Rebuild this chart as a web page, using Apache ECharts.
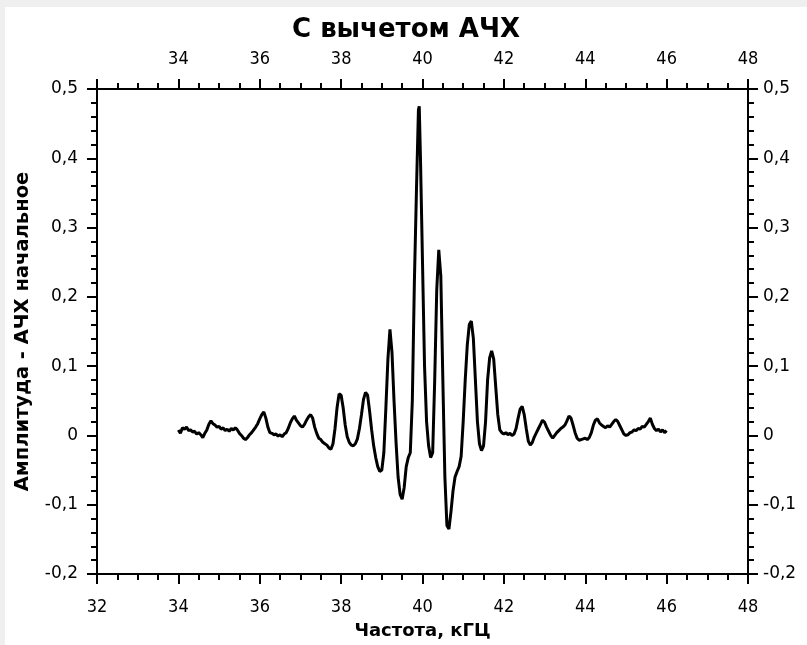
<!DOCTYPE html>
<html lang="ru">
<head>
    <meta charset="UTF-8">
    <script type="text/javascript" src="https://cdn.jsdelivr.net/npm/echarts@6/dist/echarts.min.js"></script>
    <title>С вычетом АЧХ</title>
    <style type="text/css">
        body { margin: 0; background: #efefef; }
        #chart {
            position: absolute;
            left: 5px;
            top: 7px;
            width: 802px;
            height: 638px;
            background: #fff;
        }
    </style>
</head>
<body>
    <div id="chart"></div>
    <script type="text/javascript">
        // частота, кГц
        let freq = [
            34.00, 34.05, 34.10, 34.15, 34.20, 34.25, 34.30, 34.35, 34.40, 34.45,
            34.50, 34.55, 34.60, 34.65, 34.70, 34.75, 34.80, 34.85, 34.90, 34.95,
            35.00, 35.05, 35.10, 35.15, 35.20, 35.25, 35.30, 35.35, 35.40, 35.45,
            35.50, 35.55, 35.60, 35.65, 35.70, 35.75, 35.80, 35.85, 35.90, 35.95,
            36.00, 36.05, 36.10, 36.15, 36.20, 36.25, 36.30, 36.35, 36.40, 36.45,
            36.50, 36.55, 36.60, 36.65, 36.70, 36.75, 36.80, 36.85, 36.90, 36.95,
            37.00, 37.05, 37.10, 37.15, 37.20, 37.25, 37.30, 37.35, 37.40, 37.45,
            37.50, 37.55, 37.60, 37.65, 37.70, 37.75, 37.80, 37.85, 37.90, 37.95,
            38.00, 38.05, 38.10, 38.15, 38.20, 38.25, 38.30, 38.35, 38.40, 38.45,
            38.50, 38.55, 38.60, 38.65, 38.70, 38.75, 38.80, 38.85, 38.90, 38.95,
            39.00, 39.05, 39.10, 39.15, 39.20, 39.25, 39.30, 39.35, 39.40, 39.45,
            39.50, 39.55, 39.60, 39.65, 39.70, 39.75, 39.80, 39.85, 39.90, 39.92,
            39.95, 40.00, 40.05, 40.10, 40.15, 40.20, 40.25, 40.30, 40.35, 40.40,
            40.45, 40.50, 40.55, 40.60, 40.65, 40.70, 40.75, 40.80, 40.85, 40.90,
            40.95, 41.00, 41.05, 41.10, 41.15, 41.20, 41.25, 41.30, 41.35, 41.40,
            41.45, 41.50, 41.55, 41.60, 41.65, 41.70, 41.75, 41.80, 41.85, 41.90,
            41.95, 42.00, 42.05, 42.10, 42.15, 42.20, 42.25, 42.30, 42.35, 42.40,
            42.45, 42.50, 42.55, 42.60, 42.65, 42.70, 42.75, 42.80, 42.85, 42.90,
            42.95, 43.00, 43.05, 43.10, 43.15, 43.20, 43.25, 43.30, 43.35, 43.40,
            43.45, 43.50, 43.55, 43.60, 43.65, 43.70, 43.75, 43.80, 43.85, 43.90,
            43.95, 44.00, 44.05, 44.10, 44.15, 44.20, 44.25, 44.30, 44.35, 44.40,
            44.45, 44.50, 44.55, 44.60, 44.65, 44.70, 44.75, 44.80, 44.85, 44.90,
            44.95, 45.00, 45.05, 45.10, 45.15, 45.20, 45.25, 45.30, 45.35, 45.40,
            45.45, 45.50, 45.55, 45.60, 45.65, 45.70, 45.75, 45.80, 45.85, 45.90,
            45.95, 46.00
        ]
        // амплитуда - АЧХ начальное
        let amp = [
            0.008, 0.003, 0.011, 0.009, 0.012, 0.007, 0.008, 0.005, 0.006, 0.002,
            0.004, 0.001, -0.003, 0.003, 0.008, 0.016, 0.021, 0.017, 0.015, 0.012,
            0.013, 0.009, 0.011, 0.007, 0.009, 0.006, 0.010, 0.008, 0.011, 0.008,
            0.003, 0.000, -0.004, -0.006, -0.003, 0.001, 0.004, 0.008, 0.012, 0.017,
            0.024, 0.030, 0.034, 0.025, 0.012, 0.004, 0.003, 0.001, 0.002, -0.001,
            0.001, -0.002, 0.002, 0.004, 0.010, 0.018, 0.024, 0.028, 0.022, 0.018,
            0.014, 0.012, 0.016, 0.022, 0.027, 0.030, 0.025, 0.012, 0.003, -0.004,
            -0.006, -0.010, -0.012, -0.014, -0.018, -0.020, -0.012, 0.010, 0.040, 0.060,
            0.058, 0.040, 0.015, -0.002, -0.010, -0.014, -0.015, -0.012, -0.005, 0.010,
            0.030, 0.052, 0.062, 0.058, 0.035, 0.008, -0.015, -0.032, -0.045, -0.052,
            -0.050, -0.025, 0.040, 0.110, 0.153, 0.120, 0.050, -0.010, -0.060, -0.085,
            -0.092, -0.075, -0.045, -0.032, -0.025, 0.050, 0.220, 0.350, 0.470, 0.475,
            0.400, 0.250, 0.100, 0.020, -0.015, -0.032, -0.025, 0.080, 0.210, 0.268,
            0.230, 0.080, -0.060, -0.130, -0.135, -0.110, -0.080, -0.060, -0.052, -0.045,
            -0.030, 0.020, 0.080, 0.130, 0.160, 0.165, 0.140, 0.080, 0.020, -0.012,
            -0.022, -0.015, 0.020, 0.080, 0.112, 0.122, 0.110, 0.070, 0.030, 0.008,
            0.004, 0.002, 0.004, 0.001, 0.003, 0.000, 0.002, 0.010, 0.025, 0.038,
            0.042, 0.030, 0.010, -0.008, -0.014, -0.010, -0.002, 0.004, 0.010, 0.016,
            0.022, 0.019, 0.012, 0.006, 0.000, -0.004, 0.000, 0.004, 0.007, 0.010,
            0.012, 0.015, 0.021, 0.028, 0.025, 0.015, 0.004, -0.004, -0.007, -0.006,
            -0.005, -0.004, -0.006, -0.003, 0.004, 0.015, 0.022, 0.024, 0.018, 0.015,
            0.013, 0.011, 0.014, 0.012, 0.016, 0.020, 0.023, 0.020, 0.014, 0.008,
            0.002, 0.000, 0.001, 0.004, 0.005, 0.008, 0.007, 0.010, 0.009, 0.013,
            0.012, 0.016, 0.020, 0.025, 0.016, 0.010, 0.007, 0.009, 0.005, 0.008,
            0.004, 0.007
        ]

        let labelFont = 'DejaVu Sans'
        let narrowFont = '"DejaVu Sans Condensed", sans-serif'
        let boldFont = '"DejaVu Sans", sans-serif'

        function yLabel(v) {
            let r = Math.round(v * 10) / 10
            return String(r).replace('.', ',')
        }

        function xAxisOpt(pos) {
            return {
                type: 'value',
                position: pos,
                min: 32,
                max: 48,
                interval: 2,
                name: pos === 'bottom' ? 'Частота, кГЦ' : '',
                nameLocation: 'middle',
                nameGap: 48,
                nameTextStyle: { fontFamily: boldFont, fontWeight: 'bold', fontSize: 18, color: '#000' },
                axisLine: { onZero: false, lineStyle: { color: '#000', width: 2 } },
                axisTick: { length: 10, lineStyle: { color: '#000', width: 2 } },
                minorTick: { show: true, splitNumber: 4, length: 6, lineStyle: { color: '#000', width: 2 } },
                splitLine: { show: false },
                axisLabel: {
                    color: '#000', fontFamily: narrowFont, fontSize: 18,
                    margin: pos === 'top' ? 21 : 24,
                    formatter: function (v) { return (pos === 'top' && v === 32) ? '' : String(v) }
                }
            }
        }

        function yAxisOpt(pos) {
            return {
                type: 'value',
                position: pos,
                min: -0.2,
                max: 0.5,
                interval: 0.1,
                name: pos === 'left' ? 'Амплитуда - АЧХ начальное' : '',
                nameLocation: 'middle',
                nameGap: 64,
                nameTextStyle: { fontFamily: boldFont, fontWeight: 'bold', fontSize: 19.5, color: '#000' },
                axisLine: { show: true, onZero: false, lineStyle: { color: '#000', width: 2 } },
                axisTick: { show: true, length: 10, lineStyle: { color: '#000', width: 2 } },
                minorTick: { show: true, splitNumber: 5, length: 6, lineStyle: { color: '#000', width: 2 } },
                splitLine: { show: false },
                axisLabel: { color: '#000', fontFamily: labelFont, fontSize: 17, margin: pos === 'left' ? 19 : 15, formatter: yLabel }
            }
        }

        let points = []
        for (let i = 0; i < freq.length; i++) {
            points.push([freq[i], amp[i]])
        }

        var myChart = echarts.init(document.getElementById('chart'))
        var option = {
            animation: false,
            title: {
                text: 'С вычетом АЧХ',
                left: 'center',
                top: 5,
                textStyle: { fontFamily: boldFont, fontWeight: 'bold', fontSize: 26, color: '#000' }
            },
            grid: { left: 92, right: 59, top: 82, bottom: 62 },
            xAxis: [xAxisOpt('bottom'), xAxisOpt('top')],
            yAxis: [yAxisOpt('left'), yAxisOpt('right')],
            series: [{
                type: 'line',
                data: points,
                showSymbol: false,
                lineStyle: { color: '#000', width: 3 },
                z: 1
            }]
        }
        option && myChart.setOption(option)
    </script>
</body>
</html>
